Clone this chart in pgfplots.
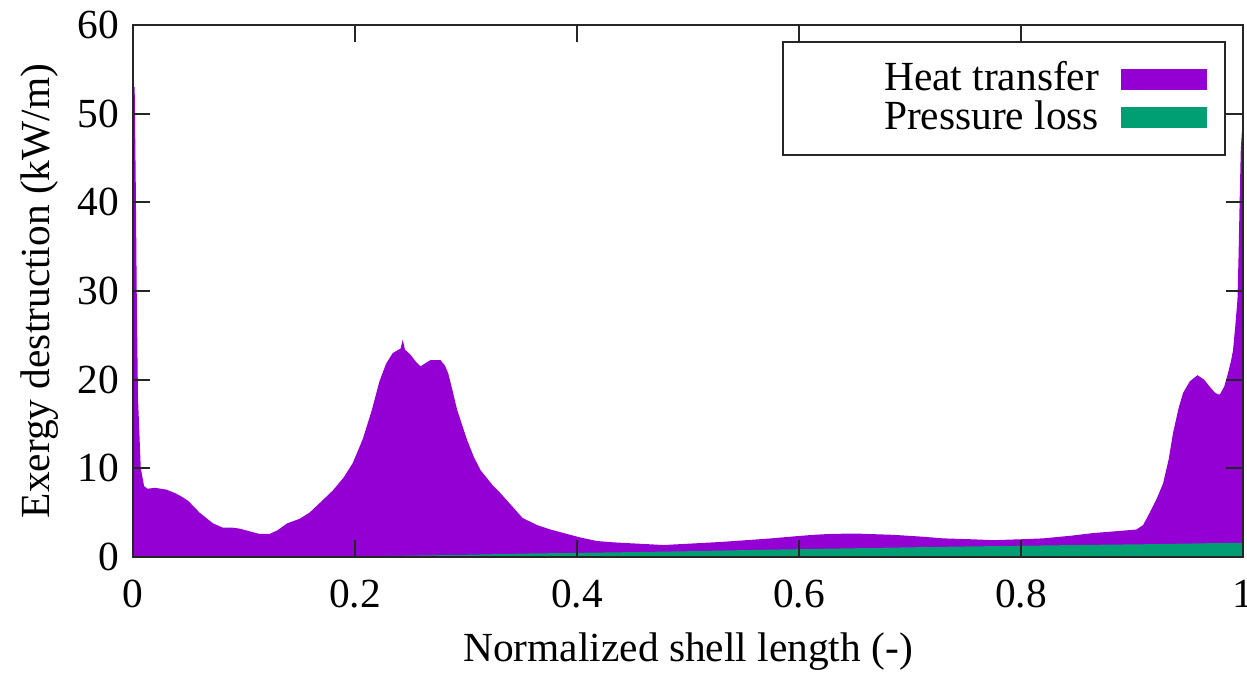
\documentclass[border=0pt]{standalone}
\usepackage{fontspec}
\setmainfont{Liberation Serif}
\usepackage{pgfplots}
\pgfplotsset{compat=1.18}
\definecolor{htcol}{HTML}{9400D3}
\definecolor{plcol}{HTML}{009E73}
\begin{document}
\fontsize{20.7}{24.8}\selectfont
\begin{tikzpicture}
\begin{axis}[
  name=ax,
  scale only axis,
  width=555pt, height=266pt,
  xmin=0, xmax=1, ymin=0, ymax=60,
  xtick={0,0.2,0.4,0.6,0.8,1},
  xticklabels={0,0.2,0.4,0.6,0.8,1},
  ytick={0,10,20,30,40,50,60},
  /pgf/number format/assume math mode=true,
  tick align=inside,
  major tick length=8.5pt,
  axis line style={line width=0.9pt, black!85},
  every tick/.style={line width=0.9pt, black!85},
  xticklabel style={yshift=-4.6pt},
  xlabel={Normalized shell length (-)},
  ylabel={Exergy destruction (kW/m)},
  xlabel style={at={(rel axis cs:0.5,0)}, anchor=center, yshift=-47.5pt},
  ylabel style={at={(rel axis cs:0,0.5)}, anchor=center, yshift=46.5pt},
  axis on top,
  legend plot pos=right,
  legend cell align=right,
  legend style={at={(rel axis cs:1,1)}, anchor=north east, xshift=-8.5pt, yshift=-8pt,
    draw=black!85, line width=0.9pt, fill=white,
    inner xsep=0pt, inner ysep=9.1pt, row sep=0pt, column sep=11pt,
    nodes={inner sep=0pt}},
  legend image code/.code={\fill[#1] (0pt,-5.25pt) rectangle (43pt,5.25pt);
    \path[draw=none,fill=none] (0pt,-9.625pt) rectangle (52pt,9.625pt);},
]
\addplot[fill=htcol, draw=none] coordinates {
(0,0) (0,53) (0.0015,53) (0.0025,42) (0.0035,28) (0.0045,18) (0.007,10) (0.01,8) (0.013,7.7)
(0.02,7.8) (0.03,7.6) (0.038,7.2) (0.044,6.8) (0.05,6.3) (0.06,5.0) (0.072,3.8)
(0.081,3.3) (0.09,3.3) (0.096,3.2) (0.105,2.9) (0.114,2.6) (0.123,2.6) (0.13,3.0)
(0.139,3.8) (0.15,4.3) (0.159,5.0) (0.17,6.3) (0.18,7.5) (0.19,9.0) (0.198,10.6)
(0.207,13.3) (0.215,16.5) (0.222,19.8) (0.228,21.8) (0.234,23.0) (0.241,23.5)
(0.243,24.5) (0.245,23.4) (0.25,22.8) (0.255,22.0) (0.259,21.5) (0.264,21.9)
(0.268,22.2) (0.277,22.2) (0.281,21.6) (0.284,20.7) (0.288,18.7) (0.292,16.6)
(0.301,13.2) (0.307,11.3) (0.313,9.8) (0.324,8.1) (0.331,7.2) (0.341,5.8)
(0.351,4.4) (0.364,3.6) (0.376,3.1) (0.388,2.7) (0.403,2.2) (0.418,1.8)
(0.433,1.65) (0.448,1.55) (0.463,1.45) (0.478,1.35) (0.493,1.45) (0.508,1.55)
(0.53,1.7) (0.553,1.9) (0.575,2.1) (0.598,2.35) (0.613,2.5) (0.628,2.6)
(0.65,2.65) (0.673,2.55) (0.685,2.5) (0.71,2.3) (0.73,2.1) (0.755,2.0)
(0.775,1.9) (0.8,2.0) (0.82,2.1) (0.845,2.4) (0.865,2.7) (0.885,2.9)
(0.904,3.1) (0.91,3.6) (0.916,5.0) (0.922,6.5) (0.928,8.3) (0.933,11)
(0.937,14) (0.942,16.8) (0.946,18.5) (0.952,19.8) (0.959,20.5) (0.965,20.0)
(0.970,19.2) (0.975,18.5) (0.979,18.3) (0.983,19.2) (0.986,20.5) (0.989,22)
(0.991,23.3) (0.993,26) (0.995,29) (0.996,34) (0.997,40.3) (0.998,46) (0.999,48) (1.0,48)
(1.0,0)
} \closedcycle;
\addlegendentry{\makebox[158pt][r]{Heat transfer}}
\addplot[fill=plcol, draw=none] coordinates {
(0,0) (0.15,0) (0.19,0.05) (0.25,0.15) (0.3,0.25) (0.36,0.4) (0.45,0.55)
(0.5,0.65) (0.56,0.8) (0.61,0.9) (0.68,1.05) (0.73,1.15) (0.79,1.25)
(0.85,1.35) (0.92,1.45) (0.99,1.6) (1,1.6) (1,0)
} \closedcycle;
\addlegendentry{\makebox[158pt][r]{Pressure loss}}
\end{axis}
\pgfresetboundingbox
\path[use as bounding box] ([xshift=-66.5pt,yshift=-58pt]ax.south west) rectangle ([xshift=2pt,yshift=12.5pt]ax.north east);
\end{tikzpicture}
\end{document}
